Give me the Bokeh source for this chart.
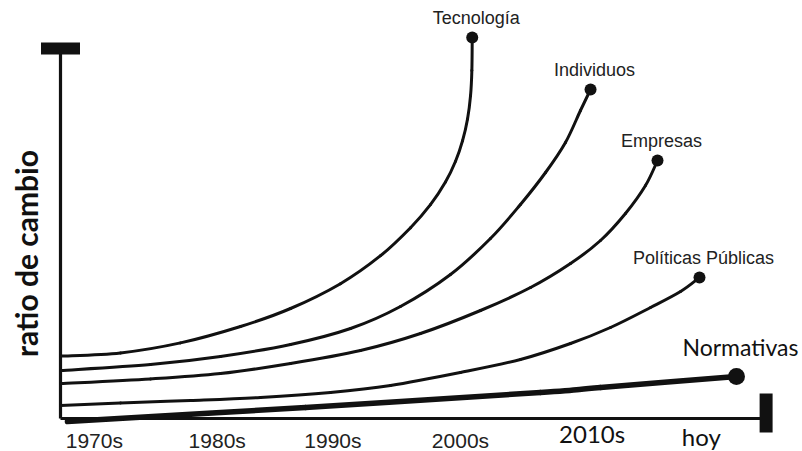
import math
from bokeh.plotting import figure
from bokeh.models import Range1d
from bokeh.core.properties import value
from bokeh.embed import file_html
from bokeh.resources import INLINE

# ---- data (x: year, y: rate-of-change index) ----
series_names = ["Tecnología", "Individuos", "Empresas", "Políticas Públicas", "Normativas"]

tec_x = [1970, 1975, 1980, 1985, 1989.17, 1993.33, 1996.67, 1999.17, 2000.83, 2002.08,
         2002.92, 2003.5, 2003.92, 2004.17, 2004.28, 2004.31]
tec_y = [15.6, 16.4, 18.9, 23, 27.5, 33.7, 40.7, 47.7, 53.45, 59.1,
         64.3, 69.4, 74.9, 80.7, 87, 95.25]

ind_x = [1970, 1977.5, 1983.33, 1989.17, 1994.17, 1998.33, 2002.5, 2005.83, 2008.33, 2010.42,
         2012.08, 2013.33, 2014.17]
ind_y = [12, 13.5, 15.5, 18.5, 22.5, 28, 36, 45, 53.5, 61.5,
         69, 77, 82.25]

emp_x = [1970, 1977.5, 1983.33, 1989.17, 1995, 2000, 2005, 2009.17, 2012.5, 2015,
         2017.08, 2018.75, 2019.75]
emp_y = [8.75, 9.9, 11.25, 13.75, 17, 21.25, 27, 32.75, 38.75, 44.5,
         51.25, 58.25, 64.5]

pol_x = [1970, 1975, 1980.83, 1986.67, 1992.5, 1997.5, 2003.33, 2008.33, 2012.5, 2015.83,
         2019.17, 2021.67, 2023.25]
pol_y = [3.25, 3.9, 4.5, 5.25, 6.5, 8.25, 11.5, 14.75, 18.75, 22.75,
         27.75, 31.75, 35.25]

nor_x = [1970.58, 1990.42, 2010, 2015, 2026.33]
nor_y = [-0.75, 2.75, 6.5, 7.75, 10.5]

tick_labels = ["1970s", "1980s", "1990s", "2000s", "2010s", "hoy"]
tick_x = [1972.82, 1983.06, 1992.7, 2003.33, 2014.3, 2023.4]

axis_label = "ratio de cambio"
axis_x0 = 1970
axis_x1 = 2028.8
axis_y1 = 92.5


def smooth_segments(xs, ys):
    """Catmull-Rom through the read points, returned as cubic Bezier pieces."""
    n = len(xs)
    out = {"x0": [], "y0": [], "x1": [], "y1": [], "cx0": [], "cy0": [], "cx1": [], "cy1": []}
    for i in range(n - 1):
        a = max(i - 1, 0)
        d = min(i + 2, n - 1)
        out["x0"].append(xs[i]); out["y0"].append(ys[i])
        out["x1"].append(xs[i + 1]); out["y1"].append(ys[i + 1])
        out["cx0"].append(xs[i] + (xs[i + 1] - xs[a]) / 6.0)
        out["cy0"].append(ys[i] + (ys[i + 1] - ys[a]) / 6.0)
        out["cx1"].append(xs[i + 1] - (xs[d] - xs[i]) / 6.0)
        out["cy1"].append(ys[i + 1] - (ys[d] - ys[i]) / 6.0)
    return out


# ---- figure ----
p = figure(width=802, height=451, output_backend="svg", toolbar_location=None,
           x_range=Range1d(1965.0, 2031.833), y_range=Range1d(-8.25, 104.5),
           min_border=0, outline_line_color=None)
p.axis.visible = False
p.grid.visible = False
p.background_fill_color = "white"
p.border_fill_color = "white"

ink = "#111111"

# axes
p.segment(x0=[axis_x0], y0=[0], x1=[axis_x0], y1=[axis_y1], line_width=3.2, line_color=ink)
p.segment(x0=[axis_x0], y0=[0], x1=[axis_x1], y1=[0], line_width=3, line_color=ink)
p.rect(x=[axis_x0], y=[axis_y1], width=39, height=12, width_units="screen",
       height_units="screen", fill_color=ink, line_color=None)
p.rect(x=[axis_x1], y=[1.375], width=13, height=39, width_units="screen",
       height_units="screen", fill_color=ink, line_color=None)

thin = [(tec_x, tec_y), (ind_x, ind_y), (emp_x, emp_y), (pol_x, pol_y)]
for xs, ys in thin:
    p.bezier(**smooth_segments(xs, ys), line_width=3, line_color=ink, line_cap="round")
p.bezier(**smooth_segments(nor_x, nor_y), line_width=5.5, line_color=ink, line_cap="round")

end_x = [s[0][-1] for s in thin]
end_y = [s[1][-1] for s in thin]
p.scatter(end_x, end_y, size=12, fill_color=ink, line_color=None)
p.scatter([nor_x[-1]], [nor_y[-1]], size=17, fill_color=ink, line_color=None)

p.text(x=end_x, y=end_y, text=series_names[:4], x_offset=4, y_offset=-20,
       text_font=value("Liberation Sans"), text_font_size="18px", text_color="#222222",
       text_align="center", text_baseline="alphabetic")
p.text(x=[nor_x[-1]], y=[nor_y[-1]], text=[series_names[4]], x_offset=4, y_offset=-30,
       text_font=value("Lato"), text_font_size="23px", text_color="#111111",
       text_align="center", text_baseline="alphabetic")

# tick labels
p.text(x=tick_x[:4], y=[-7.4] * 4, text=tick_labels[:4], y_offset=-8,
       text_font=value("Liberation Sans"), text_font_size="21px", text_color="#222222",
       text_align="center", text_baseline="alphabetic")
p.text(x=tick_x[4:], y=[-5.75, -6.5], text=tick_labels[4:], y_offset=-8,
       text_font=value("Lato"), text_font_size="24px", text_color="#111111",
       text_align="center", text_baseline="alphabetic")

# y axis label
p.text(x=[1967.9], y=[41.25], text=[axis_label], angle=math.pi / 2, x_offset=-9,
       text_font=value("Lato"), text_font_size="30px", text_font_style="bold",
       text_color="#111111", text_align="center", text_baseline="alphabetic")

open("out.html", "w").write(file_html(p, INLINE))
